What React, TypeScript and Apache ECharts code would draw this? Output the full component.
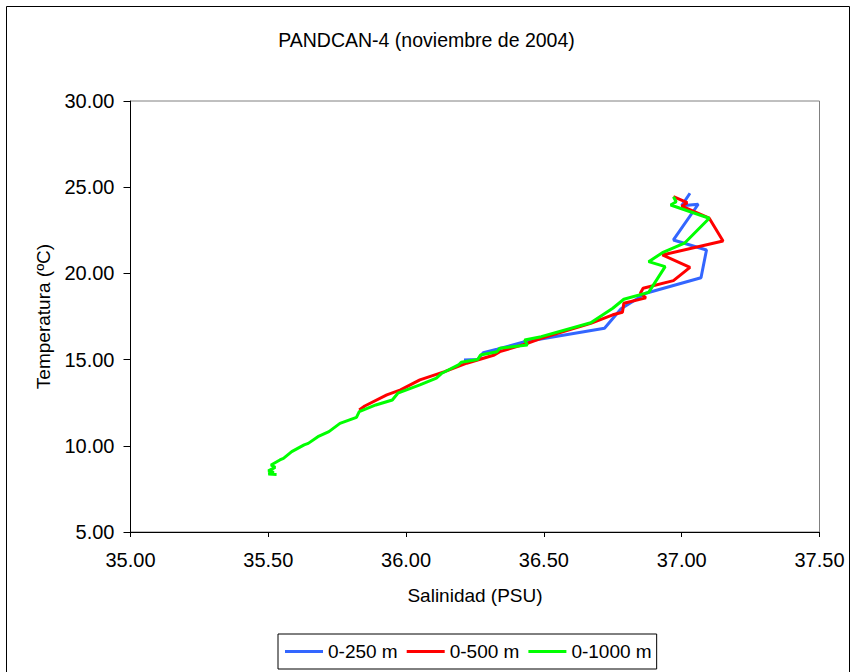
import React, { useEffect, useRef } from "react";
import * as echarts from "echarts";

const TITLE = "PANDCAN-4 (noviembre de 2004)";
const X_NAME = "Salinidad (PSU)";
const Y_NAME = "Temperatura (ºC)";
const SERIES_NAMES = ["0-250 m", "0-500 m", "0-1000 m"];
const COLORS = ["#3366FF", "#FF0000", "#00FF00"];

const sal250 = [37.03, 37.0, 37.06, 36.97, 37.09, 37.07, 36.87, 36.78, 36.72, 36.43, 36.33, 36.28, 36.26, 36.21];
const temp250 = [24.65, 23.93, 24.01, 21.94, 21.36, 19.75, 18.85, 17.95, 16.82, 16.04, 15.6, 15.4, 15.0, 14.98];

const sal500 = [36.97, 37.02, 37.0, 37.1, 37.15, 36.93, 37.03, 36.97, 36.86, 36.85, 36.87, 36.79, 36.785, 36.75, 36.67, 36.49, 36.44, 36.34, 36.32, 36.22, 36.14, 36.05, 35.98, 35.93, 35.85, 35.83];
const temp500 = [24.45, 24.1, 23.9, 23.2, 21.88, 21.07, 20.35, 19.58, 19.14, 18.85, 18.58, 18.27, 17.75, 17.6, 17.1, 16.24, 15.94, 15.46, 15.27, 14.79, 14.3, 13.82, 13.24, 12.95, 12.31, 12.08];

const sal1000 = [36.97, 36.98, 36.96, 37.1, 37.01, 36.93, 36.88, 36.94, 36.88, 36.79, 36.75, 36.67, 36.49, 36.43, 36.44, 36.34, 36.33, 36.27, 36.26, 36.2, 36.19, 36.13, 36.11, 36.05, 35.97, 35.95, 35.89, 35.83, 35.82, 35.76, 35.72, 35.68, 35.645, 35.63, 35.585, 35.555, 35.542, 35.51, 35.525, 35.5, 35.52, 35.5, 35.53];
const temp1000 = [24.45, 24.16, 23.97, 23.2, 21.75, 21.2, 20.68, 20.39, 18.9, 18.5, 17.98, 17.14, 16.33, 16.14, 15.85, 15.66, 15.46, 15.27, 15.0, 14.85, 14.69, 14.21, 13.92, 13.53, 13.05, 12.66, 12.37, 11.98, 11.65, 11.3, 10.82, 10.53, 10.14, 10.05, 9.66, 9.27, 9.18, 8.89, 8.75, 8.55, 8.45, 8.36, 8.34];

const X_MIN = 35, X_MAX = 37.5, X_STEP = 0.5;
const Y_MIN = 5, Y_MAX = 30, Y_STEP = 5;

const zip = (a: number[], b: number[]) => a.map((v, i) => [v, b[i]]);

const FONT = "'Liberation Sans', Arial, sans-serif";

export default function App() {
  const ref = useRef<HTMLDivElement>(null);
  useEffect(() => {
    if (!ref.current) return;
    const chart = echarts.init(ref.current, null, { renderer: "svg" });
    const data = [zip(sal250, temp250), zip(sal500, temp500), zip(sal1000, temp1000)];
    chart.setOption({
      animation: false,
      backgroundColor: "#ffffff",
      textStyle: { fontFamily: FONT },
      title: {
        text: TITLE,
        left: "center",
        top: 25,
        textStyle: { fontFamily: FONT, fontSize: 19.5, fontWeight: "normal", color: "#000" },
      },
      graphic: [
        {
          type: "rect",
          shape: { x: 6.5, y: 6.5, width: 843, height: 720 },
          style: { fill: "none", stroke: "#000", lineWidth: 1 },
          silent: true,
          z: 100,
        },
      ],
      grid: {
        left: 130.5,
        right: 33.5,
        top: 101,
        bottom: 140,
        show: true,
        borderColor: "#808080",
        borderWidth: 1,
        backgroundColor: "#fff",
      },
      legend: {
        left: 278,
        top: 634,
        padding: [8, 5, 8, 7],
        icon: "rect",
        itemWidth: 38,
        itemHeight: 3,
        itemGap: 9,
        borderColor: "#000",
        borderWidth: 1,
        textStyle: { fontFamily: FONT, fontSize: 19, color: "#000" },
        data: SERIES_NAMES,
      },
      xAxis: {
        type: "value",
        min: X_MIN,
        max: X_MAX,
        interval: X_STEP,
        name: X_NAME,
        nameLocation: "middle",
        nameGap: 54,
        nameTextStyle: { fontFamily: FONT, fontSize: 19, color: "#000" },
        axisLine: { show: true, onZero: false, lineStyle: { color: "#000", width: 1 } },
        axisTick: { show: true, inside: false, length: 5, lineStyle: { color: "#000" } },
        axisLabel: {
          fontFamily: FONT,
          fontSize: 20,
          color: "#000",
          margin: 18,
          formatter: (v: number) => v.toFixed(2),
        },
        splitLine: { show: false },
      },
      yAxis: {
        type: "value",
        min: Y_MIN,
        max: Y_MAX,
        interval: Y_STEP,
        name: Y_NAME,
        nameLocation: "middle",
        nameGap: 78,
        nameTextStyle: { fontFamily: FONT, fontSize: 19, color: "#000" },
        axisLine: { show: true, onZero: false, lineStyle: { color: "#000", width: 1 } },
        axisTick: { show: true, inside: false, length: 7, lineStyle: { color: "#000" } },
        axisLabel: {
          fontFamily: FONT,
          fontSize: 20,
          color: "#000",
          margin: 16,
          formatter: (v: number) => v.toFixed(2),
        },
        splitLine: { show: false },
      },
      series: SERIES_NAMES.map((name, i) => ({
        name,
        type: "line",
        data: data[i],
        symbol: "none",
        showSymbol: false,
        color: COLORS[i],
        lineStyle: { color: COLORS[i], width: 3 },
        z: 2 + i,
      })),
    });
    return () => chart.dispose();
  }, []);
  return (
    <div
      ref={ref}
      style={{ position: "absolute", left: 0, top: 0, width: 853, height: 672 }}
    />
  );
}
